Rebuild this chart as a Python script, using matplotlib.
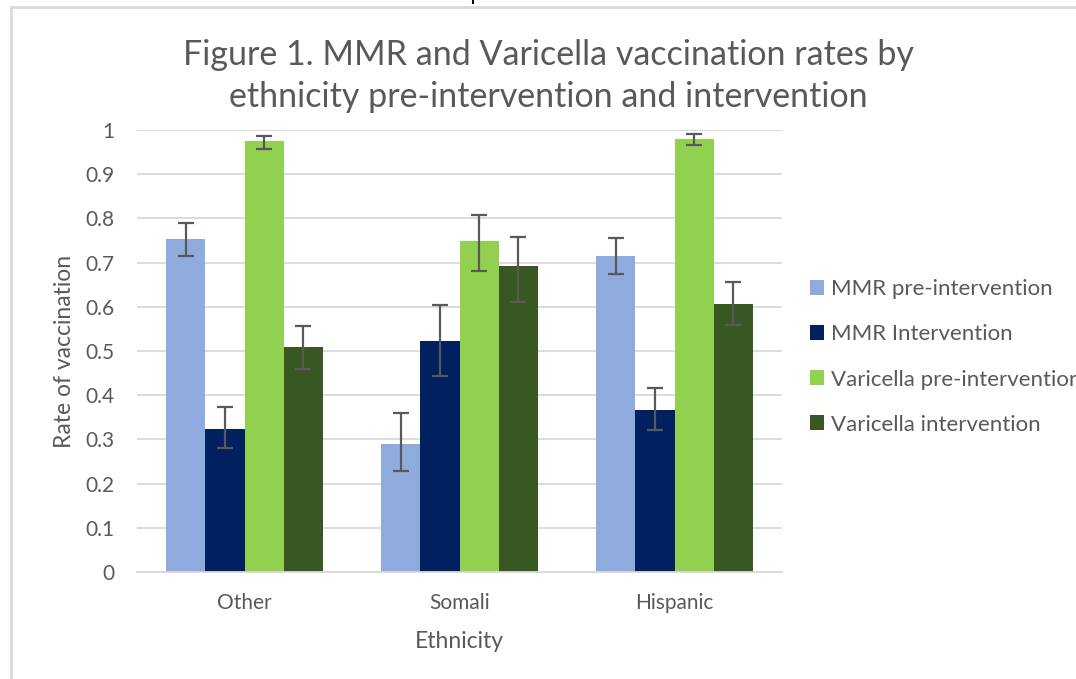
import numpy as np
import matplotlib
matplotlib.use('Agg')
import matplotlib.pyplot as plt
from matplotlib.lines import Line2D

plt.rcParams['font.family'] = ['Lato', 'DejaVu Sans']

# Data
categories = ['Other', 'Somali', 'Hispanic']
series = ['MMR pre-intervention', 'MMR Intervention',
          'Varicella pre-intervention', 'Varicella intervention']
colors = ['#8faadc', '#002060', '#92d050', '#385723']

values = [
    [0.754, 0.289, 0.715],   # MMR pre
    [0.324, 0.523, 0.366],   # MMR intervention
    [0.974, 0.749, 0.980],   # Varicella pre
    [0.508, 0.692, 0.606],   # Varicella intervention
]
err_high = [
    [0.790, 0.359, 0.755],
    [0.373, 0.604, 0.416],
    [0.986, 0.807, 0.990],
    [0.557, 0.759, 0.655],
]
err_low = [
    [0.715, 0.229, 0.674],
    [0.280, 0.443, 0.321],
    [0.957, 0.682, 0.965],
    [0.459, 0.610, 0.558],
]
yticks = [0, 0.1, 0.2, 0.3, 0.4, 0.5, 0.6, 0.7, 0.8, 0.9, 1]
ytick_labels = ['0', '0.1', '0.2', '0.3', '0.4', '0.5', '0.6', '0.7', '0.8', '0.9', '1']

text_color = '#595959'
grid_color = '#d9d9d9'

fig = plt.figure(figsize=(10.76, 6.79), dpi=100)
ax = fig.add_axes([137 / 1076, 1 - 572 / 679, 645 / 1076, 442 / 679])

x = np.arange(len(categories))
width = 0.1818
for i, (name, col) in enumerate(zip(series, colors)):
    vals = np.array(values[i])
    lo = vals - np.array(err_low[i])
    hi = np.array(err_high[i]) - vals
    pos = x + (i - 1.5) * width
    ax.bar(pos, vals, width, color=col, label=name, zorder=2)
    ax.errorbar(pos, vals, yerr=[lo, hi], fmt='none', ecolor='#595959',
                elinewidth=1.6, capsize=5.5, capthick=1.6, zorder=3)

ax.set_xlim(-0.5, 2.5)
ax.set_ylim(0, 1)
ax.set_yticks(yticks)
ax.set_yticklabels(ytick_labels)
ax.set_xticks(x)
ax.set_xticklabels(categories)
ax.yaxis.grid(True, color=grid_color, linewidth=1.3, zorder=0)
ax.set_axisbelow(True)
for s in ['top', 'right', 'left']:
    ax.spines[s].set_visible(False)
ax.spines['bottom'].set_color(grid_color)
ax.spines['bottom'].set_linewidth(1.3)
ax.tick_params(axis='both', length=0, labelsize=15, colors=text_color)
ax.tick_params(axis='y', pad=16)
ax.tick_params(axis='x', pad=15)

ax.set_ylabel('Rate of vaccination', fontsize=16.5, color=text_color, labelpad=8)
ax.set_xlabel('Ethnicity', fontsize=16.5, color=text_color, labelpad=13)

fig.text(548 / 1076, 1 - 76 / 679,
         'Figure 1. MMR and Varicella vaccination rates by\nethnicity pre-intervention and intervention',
         ha='center', va='center', fontsize=24.5, color=text_color, linespacing=1.42)

handles, labels = ax.get_legend_handles_labels()
fig.legend(handles, labels, loc='center left', bbox_to_anchor=(790 / 1076, 1 - 357 / 679),
           frameon=False, fontsize=16, labelcolor=text_color, handlelength=0.65,
           handleheight=0.65, handletextpad=0.3, labelspacing=1.13)

# chart area border (only top and left edges visible)
fig.add_artist(Line2D([11 / 1076, 11 / 1076], [0, 1 - 6.5 / 679], transform=fig.transFigure,
                      color=grid_color, linewidth=2))
fig.add_artist(Line2D([11 / 1076, 1], [1 - 6.5 / 679, 1 - 6.5 / 679], transform=fig.transFigure,
                      color=grid_color, linewidth=2))
fig.add_artist(Line2D([473 / 1076, 473 / 1076], [1, 1 - 3 / 679], transform=fig.transFigure,
                      color='black', linewidth=1.5))

fig.savefig('out.png', dpi=100)
